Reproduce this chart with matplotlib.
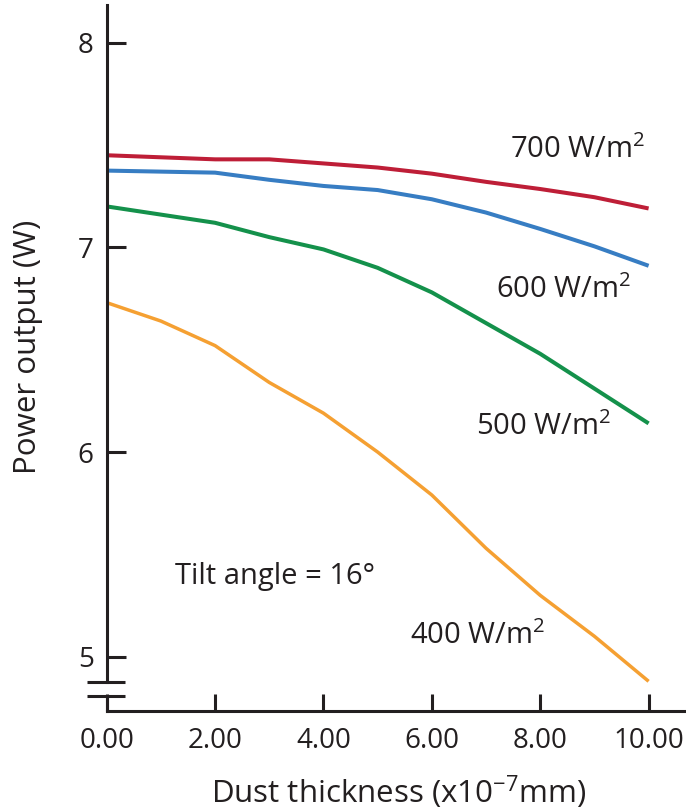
import matplotlib
matplotlib.use('Agg')
import matplotlib.pyplot as plt

plt.rcParams['font.family'] = ['Open Sans', 'DejaVu Sans']
plt.rcParams['mathtext.fontset'] = 'custom'
plt.rcParams['mathtext.rm'] = 'Open Sans'
plt.rcParams['mathtext.it'] = 'Open Sans:italic'
plt.rcParams['mathtext.bf'] = 'Open Sans:bold'

# dust thickness (x10^-7 mm) and power output (W) per irradiance level
thickness = [0, 1, 2, 3, 4, 5, 6, 7, 8, 9, 10]
power_700 = [7.45, 7.44, 7.43, 7.43, 7.41, 7.39, 7.36, 7.32, 7.285, 7.245, 7.19]
power_600 = [7.375, 7.37, 7.365, 7.33, 7.30, 7.28, 7.235, 7.17, 7.09, 7.005, 6.91]
power_500 = [7.20, 7.16, 7.12, 7.05, 6.99, 6.90, 6.78, 6.63, 6.48, 6.31, 6.14]
power_400 = [6.73, 6.64, 6.52, 6.34, 6.19, 6.00, 5.79, 5.53, 5.30, 5.10, 4.88]

series_names = ['700 W/m$^2$', '600 W/m$^2$', '500 W/m$^2$', '400 W/m$^2$']
x_ticks = [0, 2, 4, 6, 8, 10]
x_tick_labels = ['0.00', '2.00', '4.00', '6.00', '8.00', '10.00']
y_ticks = [5, 6, 7, 8]
note = 'Tilt angle = 16°'

colors = ['#BE1E37', '#377DC3', '#14914B', '#F5A032']
widths = [2.9, 2.9, 2.9, 2.5]
# where each series name sits (data coords)
name_pos = [(8.68, 7.476), (8.42, 6.79), (8.05, 6.12), (6.85, 5.10)]

ink = '#231F20'

fig = plt.figure(figsize=(6.86, 8.09), dpi=100)
ax = fig.add_axes([106.7 / 686, 1 - 711 / 809, 1 - 106.7 / 686, 706 / 809])

all_series = [power_700, power_600, power_500, power_400]
for ys, c, w in zip(all_series, colors, widths):
    ax.plot(thickness, ys, color=c, lw=w, solid_capstyle='butt',
            solid_joinstyle='round')

for name, (tx, ty) in zip(series_names, name_pos):
    ax.text(tx, ty, name, fontsize=21, color=ink, ha='center', va='center')

ax.text(1.26, 5.39, note, fontsize=21, color=ink, ha='left', va='center')

ax.set_xlim(0, 10.69)
ax.set_ylim(4.735, 8.184)

for s in ['top', 'right', 'left']:
    ax.spines[s].set_visible(False)
ax.spines['bottom'].set_linewidth(2.2)
ax.spines['bottom'].set_color(ink)

# y axis drawn by hand so it can carry the break
yt = ax.get_yaxis_transform()
ax.plot([0, 0], [4.875, 8.184], transform=yt, color=ink, lw=2.2, clip_on=False)
ax.plot([0, 0], [4.81, 4.735], transform=yt, color=ink, lw=2.2, clip_on=False)
for yb in [4.875, 4.81]:
    ax.plot([-0.034, 0.032], [yb, yb], transform=yt, color=ink, lw=2.2,
            clip_on=False, solid_capstyle='butt')

ax.set_xticks(x_ticks)
ax.set_xticklabels(x_tick_labels)
ax.set_yticks(y_ticks)
ax.tick_params(axis='both', direction='in', colors=ink, labelsize=20, width=2.2)
ax.tick_params(axis='x', length=12.5, pad=11.5)
ax.tick_params(axis='y', length=13.5, pad=9.4)

fig.text(399 / 686, 1 - 803 / 809, 'Dust thickness (x10$^{-7}$mm)',
         fontsize=22.5, color=ink, ha='center', va='baseline')
fig.text(28 / 686, 1 - 347 / 809, 'Power output (W)', fontsize=22.5,
         color=ink, rotation=90, ha='center', va='center')

fig.savefig('out.png', dpi=100)
